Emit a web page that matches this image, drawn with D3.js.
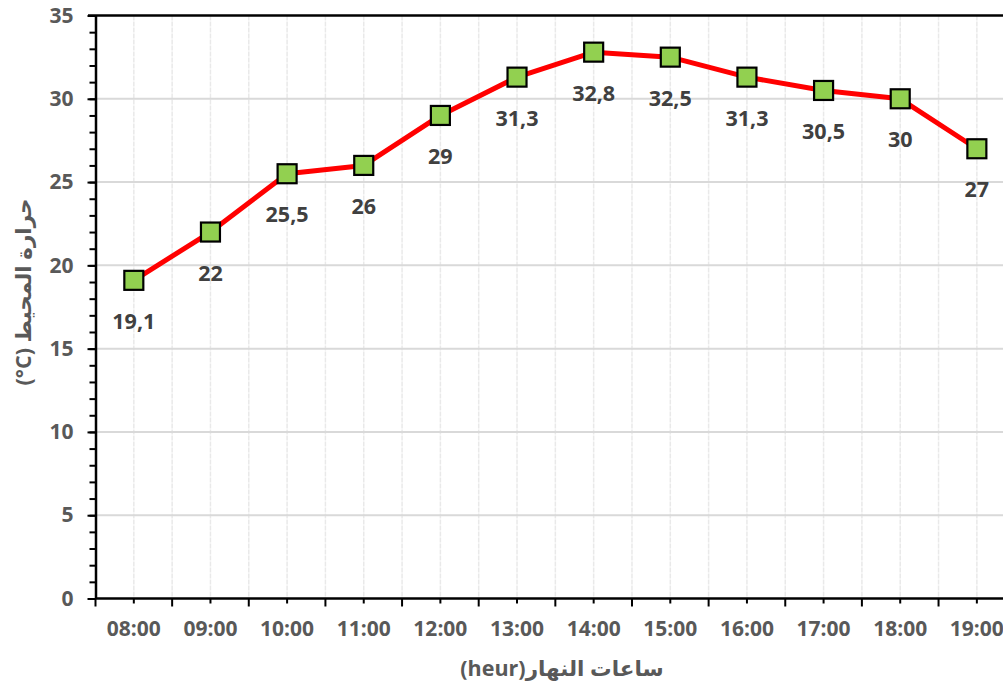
<!DOCTYPE html>
<html><head><meta charset="utf-8">
<script src="https://cdn.jsdelivr.net/npm/d3@7/dist/d3.min.js"></script>
<style>
html,body{margin:0;padding:0;background:#fff;overflow:hidden}
svg{display:block}
</style></head>
<body>
<svg id="c" width="1003" height="686"></svg>
<script>
const categories = ["08:00","09:00","10:00","11:00","12:00","13:00","14:00","15:00","16:00","17:00","18:00","19:00"];
const temperatures = [19.1, 22, 25.5, 26, 29, 31.3, 32.8, 32.5, 31.3, 30.5, 30, 27];
const valueLabels = ["19,1","22","25,5","26","29","31,3","32,8","32,5","31,3","30,5","30","27"];
const yTicks = [0,5,10,15,20,25,30,35];
const yTitle = "حرارة المحيط \u200E(°C)\u200E";
const xTitle = "ساعات النهار(heur)";

(function(){
const W = 1003, H = 686;
const pLeft = 95.5, bw = 76.64, pTop = 15.5, pBottom = 598.5;
const svg = d3.select("#c");
const font = "'Open Sans','DejaVu Sans',sans-serif";

const x = d3.scaleBand().domain(categories).range([pLeft, pLeft + bw*categories.length]).padding(0);
const y = d3.scaleLinear().domain([0,35]).range([pBottom, pTop]);
const cx = c => x(c) + x.bandwidth()/2;

// vertical gridlines (centers and boundaries)
const vpos = [];
categories.forEach(c => { vpos.push(x(c)); vpos.push(cx(c)); });
vpos.push(x.range()[1]);
svg.append("g").selectAll("line").data(vpos.filter(v => v > pLeft + 1)).join("line")
  .attr("x1", d => d).attr("x2", d => d).attr("y1", pTop).attr("y2", pBottom)
  .attr("stroke", "#e9e9e9").attr("stroke-width", 1.5).attr("stroke-dasharray", "5,1");

// horizontal gridlines
svg.append("g").selectAll("line").data(yTicks.filter(t => t > 0 && t < 35)).join("line")
  .attr("x1", pLeft).attr("x2", W).attr("y1", d => y(d)).attr("y2", d => y(d))
  .attr("stroke", "#d9d9d9").attr("stroke-width", 2);

// top border
svg.append("line").attr("x1", 88).attr("x2", W).attr("y1", pTop).attr("y2", pTop)
  .attr("stroke", "#000").attr("stroke-width", 2.5);

// y minor ticks
const yMinor = svg.append("g").attr("transform", `translate(${pLeft},0)`)
  .call(d3.axisLeft(y).tickValues(d3.range(0,36,1)).tickSize(6).tickFormat(""));
yMinor.select(".domain").remove();
yMinor.selectAll("line").attr("stroke", "#000").attr("stroke-width", 2);

// y major axis
const yAx = svg.append("g").attr("transform", `translate(${pLeft},0)`)
  .call(d3.axisLeft(y).tickValues(yTicks).tickSize(8).tickSizeOuter(0).tickPadding(14));
yAx.select(".domain").attr("stroke", "#000").attr("stroke-width", 2.5);
yAx.selectAll("line").attr("stroke", "#000").attr("stroke-width", 2);
yAx.selectAll("text").attr("font-family", font).attr("font-weight", "bold")
  .attr("font-size", "21px").attr("fill", "#595959");

// x axis
const xAx = svg.append("g").attr("transform", `translate(0,${pBottom})`)
  .call(d3.axisBottom(x).tickSize(5).tickSizeOuter(0).tickPadding(18));
xAx.select(".domain").attr("d", `M${pLeft},0H${W}`).attr("stroke", "#000").attr("stroke-width", 2.5);
xAx.selectAll("line").attr("stroke", "#000").attr("stroke-width", 2);
xAx.selectAll("text").attr("font-family", font).attr("font-weight", "bold")
  .attr("font-size", "21px").attr("fill", "#595959");
// boundary ticks
const bounds = categories.map(c => x(c)).concat([x.range()[1]]);
xAx.append("g").selectAll("line").data(bounds).join("line")
  .attr("x1", d => d).attr("x2", d => d).attr("y1", 0).attr("y2", 8)
  .attr("stroke", "#000").attr("stroke-width", 2);

// line
const line = d3.line().x((d,i) => cx(categories[i])).y(d => y(d));
svg.append("path").datum(temperatures).attr("d", line)
  .attr("fill", "none").attr("stroke", "#ff0000").attr("stroke-width", 5).attr("stroke-linejoin", "round");

// markers
const ms = 19;
svg.append("g").selectAll("rect").data(temperatures).join("rect")
  .attr("x", (d,i) => cx(categories[i]) - ms/2).attr("y", d => y(d) - ms/2)
  .attr("width", ms).attr("height", ms)
  .attr("fill", "#92d050").attr("stroke", "#000").attr("stroke-width", 2.2);

// value labels
svg.append("g").selectAll("text").data(temperatures).join("text")
  .attr("x", (d,i) => cx(categories[i])).attr("y", d => y(d) + 40)
  .attr("text-anchor", "middle").attr("dominant-baseline", "central")
  .attr("font-family", font).attr("font-weight", "bold").attr("font-size", "21.5px")
  .attr("fill", "#404040").text((d,i) => valueLabels[i]);

// axis titles
svg.append("text").attr("transform", "translate(22,292) rotate(-90)")
  .attr("text-anchor", "middle").attr("dominant-baseline", "central")
  .attr("direction", "rtl")
  .attr("font-family", font).attr("font-weight", "bold").attr("font-size", "21.5px")
  .attr("fill", "#595959").text(yTitle);

svg.append("text").attr("x", 562).attr("y", 667)
  .attr("text-anchor", "middle").attr("dominant-baseline", "central")
  .attr("direction", "rtl")
  .attr("font-family", font).attr("font-weight", "bold").attr("font-size", "21.5px")
  .attr("fill", "#595959").text(xTitle);
})();
</script>
</body></html>
